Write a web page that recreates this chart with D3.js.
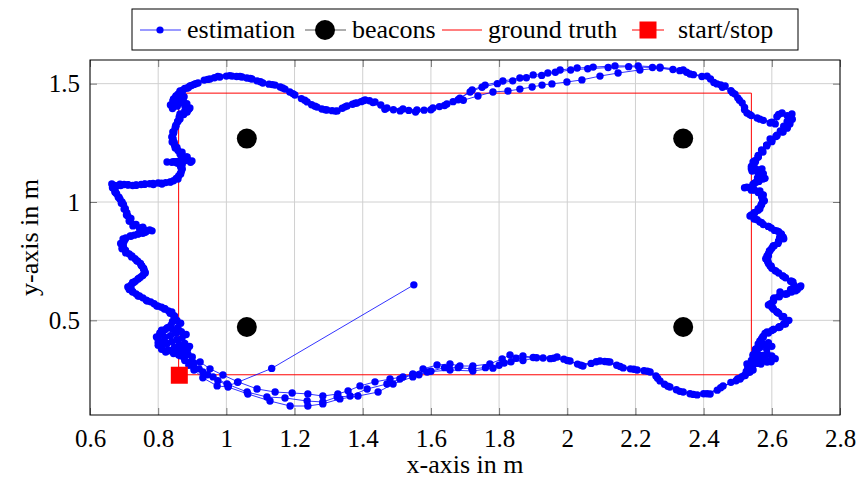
<!DOCTYPE html>
<html>
<head>
<meta charset="utf-8">
<script src="https://cdn.jsdelivr.net/npm/d3@7"></script>
<style>
  html, body { margin: 0; padding: 0; background: #fff; }
  svg { display: block; }
  text { font-family: "Liberation Serif", "Times New Roman", serif; fill: #000; }
</style>
</head>
<body>
<svg id="chart" width="859" height="483"></svg>
<script>
// ---------------- data ----------------
const xTicks = [0.6, 0.8, 1, 1.2, 1.4, 1.6, 1.8, 2, 2.2, 2.4, 2.6, 2.8];
const yTicks = [0.5, 1, 1.5];
const xDomain = [0.6, 2.8];
const yDomain = [0.1, 1.6];

const legendLabels = ["estimation", "beacons", "ground truth", "start/stop"];
const xLabel = "x-axis in m";
const yLabel = "y-axis in m";

const beacons = [[1.06, 0.472], [1.06, 1.268], [2.34, 1.268], [2.34, 0.472]];
const groundTruth = [[0.86, 0.27], [2.54, 0.27], [2.54, 1.46], [0.86, 1.46], [0.86, 0.27]];
const startStop = [[0.862, 0.268]];

const estimation = [
  // start
  [1.55,0.65],[1.133,0.297],[1.033,0.238],[1.006,0.224],[0.975,0.245],[0.945,0.27],[0.92,0.295],[0.905,0.32],[0.90,0.345],[0.888,0.355],[0.872,0.362],[0.858,0.372],[0.87,0.382],[0.886,0.376],[0.892,0.39],[0.878,0.402],[0.862,0.398],[0.848,0.386],[0.836,0.372],[0.822,0.366],[0.81,0.378],[0.8,0.395],[0.812,0.41],[0.826,0.402],[0.84,0.41],[0.855,0.418],[0.87,0.425],[0.882,0.44],[0.868,0.452],[0.852,0.445],[0.836,0.435],[0.82,0.428],[0.805,0.44],[0.81,0.458],[0.826,0.468],[0.842,0.462],[0.858,0.47],[0.866,0.488],[0.855,0.5],[0.848,0.515],[0.835,0.53],[0.818,0.548],[0.796,0.561],[0.768,0.582],
  // lap 1 left side
  [0.741,0.603],[0.725,0.622],[0.711,0.641],[0.728,0.66],[0.741,0.675],[0.755,0.69],[0.761,0.704],[0.757,0.718],[0.752,0.73],[0.737,0.752],[0.723,0.772],[0.706,0.788],[0.694,0.802],[0.692,0.823],[0.697,0.844],[0.718,0.857],[0.741,0.865],[0.762,0.872],[0.782,0.878],[0.752,0.89],[0.726,0.899],[0.716,0.92],[0.711,0.941],[0.703,0.97],[0.694,1.0],[0.683,1.02],[0.673,1.042],[0.666,1.06],[0.664,1.076],[0.688,1.075],[0.711,1.072],[0.736,1.071],[0.761,1.076],[0.786,1.074],[0.811,1.076],[0.836,1.084],[0.858,1.097],[0.866,1.118],[0.87,1.14],[0.864,1.156],[0.855,1.169],[0.826,1.169],[0.845,1.17],[0.864,1.173],[0.899,1.173],[0.882,1.19],[0.864,1.203],[0.85,1.228],[0.841,1.254],[0.84,1.275],[0.843,1.296],[0.852,1.325],[0.864,1.351],[0.864,1.372],[0.878,1.385],[0.893,1.397],[0.884,1.415],[0.873,1.43],[0.858,1.418],[0.843,1.427],[0.836,1.41],[0.842,1.395],[0.856,1.405],[0.85,1.44],[0.864,1.45],[0.876,1.445],[0.864,1.469],[0.878,1.48],[0.893,1.49],[0.917,1.503],
  // lap 1 top
  [0.952,1.52],[0.981,1.528],[1.017,1.532],[1.046,1.528],[1.075,1.52],[1.107,1.503],[1.143,1.494],[1.172,1.477],[1.201,1.452],[1.237,1.423],[1.266,1.401],[1.295,1.389],[1.325,1.385],[1.354,1.406],[1.383,1.418],[1.407,1.431],[1.436,1.423],[1.471,1.397],[1.518,1.393],[1.559,1.389],[1.606,1.397],[1.647,1.414],[1.685,1.439],[1.721,1.473],[1.759,1.494],[1.811,1.511],[1.861,1.524],[1.9,1.537],[1.943,1.545],[1.979,1.558],[2.029,1.566],[2.076,1.57],[2.14,1.575],[2.208,1.575],[2.272,1.57],[2.34,1.558],[2.36,1.541],[2.41,1.532],[2.439,1.499],[2.463,1.49],[2.492,1.456],[2.513,1.418],[2.527,1.376],[2.557,1.355],[2.595,1.334],[2.63,1.376],[2.659,1.372],
  // lap 1 right side
  [2.657,1.35],[2.653,1.33],[2.645,1.312],[2.633,1.296],[2.615,1.282],[2.595,1.266],[2.585,1.24],[2.574,1.211],[2.56,1.19],[2.545,1.169],[2.54,1.15],[2.542,1.131],[2.558,1.136],[2.571,1.14],[2.575,1.12],[2.574,1.097],[2.55,1.08],[2.527,1.063],[2.545,1.055],[2.565,1.047],[2.572,1.03],[2.574,1.013],[2.57,0.992],[2.565,0.971],[2.55,0.955],[2.536,0.941],[2.548,0.928],[2.565,0.916],[2.59,0.897],[2.615,0.878],[2.628,0.865],[2.633,0.852],[2.62,0.833],[2.604,0.814],[2.593,0.793],[2.586,0.772],[2.588,0.75],[2.595,0.73],[2.612,0.708],[2.633,0.687],[2.658,0.665],[2.683,0.641],[2.655,0.63],[2.624,0.62],[2.607,0.595],[2.595,0.569],[2.603,0.552],[2.615,0.535],[2.632,0.516],[2.645,0.497],[2.636,0.485],[2.624,0.472],[2.605,0.462],[2.586,0.451],[2.574,0.432],[2.565,0.413],[2.575,0.398],[2.59,0.405],[2.6,0.39],[2.585,0.378],[2.565,0.385],[2.552,0.37],[2.545,0.349],[2.558,0.36],[2.572,0.352],[2.586,0.36],[2.6,0.35],[2.61,0.338],[2.598,0.325],[2.586,0.324],[2.57,0.33],[2.555,0.32],[2.54,0.33],[2.527,0.316],[2.53,0.298],[2.545,0.29],[2.536,0.282],[2.522,0.267],[2.507,0.252],
  // lap 1 bottom
  [2.457,0.223],[2.419,0.189],[2.381,0.185],[2.34,0.197],[2.301,0.218],[2.272,0.244],[2.243,0.282],[2.205,0.29],[2.164,0.299],[2.125,0.324],[2.096,0.328],[2.046,0.307],[2.008,0.328],[1.97,0.345],[1.929,0.341],[1.87,0.349],[1.832,0.354],[1.809,0.337],[1.773,0.316],[1.723,0.307],[1.685,0.307],[1.656,0.316],[1.618,0.311],[1.577,0.295],[1.547,0.273],[1.518,0.261],[1.48,0.252],[1.436,0.24],[1.392,0.223],[1.357,0.202],[1.327,0.189],[1.283,0.18],[1.239,0.189],[1.193,0.193],[1.143,0.197],[1.09,0.21],[1.034,0.24],[0.99,0.269],[0.952,0.295],[0.923,0.324],
  // lap 2 left side
  [0.89,0.31],[0.878,0.33],[0.865,0.35],[0.848,0.365],[0.83,0.375],[0.812,0.395],[0.80,0.42],[0.812,0.447],[0.83,0.47],[0.842,0.495],[0.845,0.52],[0.83,0.54],[0.81,0.555],[0.788,0.57],[0.765,0.585],[0.745,0.603],[0.725,0.62],[0.72,0.64],[0.725,0.66],[0.742,0.676],[0.755,0.69],[0.76,0.703],[0.758,0.715],[0.75,0.733],[0.74,0.75],[0.722,0.768],[0.705,0.785],[0.695,0.806],[0.69,0.825],[0.703,0.842],[0.72,0.855],[0.742,0.866],[0.765,0.875],[0.758,0.884],[0.745,0.89],[0.728,0.905],[0.715,0.92],[0.707,0.945],[0.70,0.97],[0.692,0.995],[0.685,1.02],[0.675,1.04],[0.668,1.06],[0.678,1.068],[0.69,1.07],[0.712,1.073],[0.735,1.072],[0.76,1.075],[0.785,1.078],[0.81,1.079],[0.835,1.085],[0.853,1.1],[0.865,1.12],[0.87,1.138],[0.87,1.155],[0.855,1.165],[0.84,1.168],[0.86,1.172],[0.88,1.175],[0.885,1.19],[0.87,1.21],[0.855,1.23],[0.847,1.252],[0.842,1.275],[0.846,1.298],[0.852,1.32],[0.857,1.34],[0.862,1.36],[0.875,1.37],[0.885,1.38],[0.885,1.395],[0.88,1.41],[0.865,1.425],[0.852,1.44],[0.858,1.455],[0.87,1.465],[0.888,1.483],[0.905,1.497],
  // lap 2 top
  [0.935,1.515],[0.965,1.525],[1.0,1.532],[1.03,1.53],[1.06,1.524],[1.09,1.512],[1.125,1.498],[1.158,1.486],[1.186,1.465],[1.22,1.437],[1.25,1.411],[1.28,1.393],[1.31,1.386],[1.34,1.396],[1.37,1.413],[1.395,1.424],[1.42,1.428],[1.453,1.41],[1.49,1.39],[1.535,1.387],[1.58,1.388],[1.625,1.403],[1.665,1.424],[1.695,1.43],[1.738,1.448],[1.782,1.465],[1.826,1.469],[1.861,1.477],[1.897,1.486],[1.926,1.494],[1.955,1.499],[1.999,1.507],[2.043,1.516],[2.096,1.532],[2.149,1.545],[2.213,1.558],[2.272,1.566],[2.33,1.555],[2.37,1.538],[2.42,1.52],[2.45,1.495],[2.48,1.47],[2.50,1.44],[2.52,1.40],[2.535,1.37],[2.565,1.35],[2.60,1.337],[2.615,1.36],[2.645,1.365],
  // lap 2 right side
  [2.66,1.35],[2.652,1.332],[2.645,1.315],[2.63,1.297],[2.615,1.28],[2.6,1.26],[2.585,1.24],[2.572,1.215],[2.56,1.19],[2.552,1.17],[2.548,1.15],[2.552,1.135],[2.56,1.12],[2.558,1.102],[2.555,1.085],[2.545,1.072],[2.535,1.06],[2.55,1.05],[2.563,1.04],[2.575,1.03],[2.573,1.01],[2.57,0.99],[2.56,0.972],[2.548,0.955],[2.55,0.93],[2.57,0.913],[2.59,0.897],[2.608,0.88],[2.625,0.865],[2.623,0.85],[2.62,0.835],[2.607,0.815],[2.595,0.795],[2.59,0.772],[2.588,0.75],[2.598,0.73],[2.61,0.71],[2.632,0.688],[2.655,0.665],[2.665,0.648],[2.675,0.63],[2.658,0.62],[2.64,0.61],[2.622,0.6],[2.605,0.59],[2.6,0.572],[2.60,0.555],[2.615,0.535],[2.63,0.515],[2.64,0.485],[2.622,0.473],[2.605,0.462],[2.59,0.446],[2.575,0.43],[2.565,0.405],[2.555,0.38],[2.55,0.34],[2.575,0.33],[2.56,0.318],[2.545,0.31],[2.53,0.30],[2.525,0.284],[2.52,0.268],[2.5,0.253],[2.48,0.238],
  // lap 2 bottom
  [2.44,0.205],[2.40,0.19],[2.36,0.19],[2.32,0.207],[2.285,0.23],[2.26,0.265],[2.225,0.287],[2.185,0.295],[2.145,0.31],[2.11,0.326],[2.07,0.318],[2.03,0.315],[1.99,0.336],[1.95,0.338],[1.90,0.343],[1.85,0.34],[1.815,0.32],[1.782,0.298],[1.723,0.286],[1.656,0.29],[1.589,0.282],[1.547,0.27],[1.509,0.252],[1.471,0.231],[1.413,0.21],[1.363,0.18],[1.325,0.176],[1.283,0.155],[1.237,0.159],[1.172,0.172],[1.119,0.176],[1.061,0.197],[1.002,0.231],[0.961,0.261],[0.931,0.282],
  // lap 3 left side
  [0.905,0.30],[0.89,0.322],[0.875,0.345],[0.86,0.353],[0.845,0.36],[0.826,0.37],[0.81,0.385],[0.8,0.407],[0.795,0.43],[0.805,0.447],[0.82,0.46],[0.838,0.48],[0.85,0.50],[0.848,0.518],[0.84,0.535],[0.82,0.549],[0.80,0.56],[0.778,0.578],[0.755,0.595],[0.735,0.612],[0.715,0.63],[0.72,0.648],[0.733,0.665],[0.748,0.682],[0.762,0.70],[0.757,0.72],[0.748,0.74],[0.732,0.76],[0.715,0.78],[0.704,0.796],[0.698,0.812],[0.699,0.83],[0.705,0.848],[0.73,0.86],[0.755,0.868],[0.775,0.882],[0.755,0.894],[0.735,0.905],[0.72,0.93],[0.708,0.955],[0.703,0.973],[0.698,0.99],[0.688,1.012],[0.678,1.035],[0.673,1.052],[0.672,1.07],[0.70,1.074],[0.725,1.07],[0.75,1.074],[0.775,1.077],[0.80,1.08],[0.822,1.082],[0.845,1.09],[0.86,1.11],[0.868,1.13],[0.866,1.148],[0.86,1.165],[0.85,1.17],[0.873,1.17],[0.895,1.168],[0.885,1.182],[0.87,1.195],[0.858,1.218],[0.848,1.24],[0.844,1.265],[0.845,1.29],[0.85,1.315],[0.858,1.34],[0.862,1.355],[0.87,1.37],[0.88,1.38],[0.89,1.392],[0.878,1.407],[0.865,1.42],[0.845,1.435],[0.852,1.448],[0.862,1.46],[0.872,1.472],[0.885,1.482],[0.898,1.492],[0.91,1.50],
  // lap 3 top
  [0.945,1.518],[0.975,1.53],[1.01,1.534],[1.04,1.53],[1.07,1.522],[1.10,1.508],[1.135,1.496],[1.165,1.482],[1.195,1.458],[1.23,1.43],[1.26,1.405],[1.29,1.39],[1.32,1.384],[1.348,1.402],[1.378,1.417],[1.402,1.428],[1.43,1.42],[1.465,1.392],[1.51,1.385],[1.555,1.38],[1.60,1.39],[1.64,1.408],[1.68,1.432],[1.715,1.465],[1.75,1.485],[1.795,1.5],[1.84,1.512],[1.88,1.525],[1.925,1.535],[1.965,1.548],[2.01,1.558],[2.06,1.563],[2.12,1.568],[2.18,1.572],[2.25,1.568],[2.31,1.56],[2.35,1.548],[2.395,1.53],[2.43,1.505],[2.455,1.485],[2.485,1.462],[2.505,1.43],[2.52,1.39],[2.54,1.365],[2.575,1.345],[2.61,1.33],[2.62,1.37],[2.655,1.362],
  // lap 3 right side
  [2.645,1.34],[2.635,1.32],[2.625,1.30],[2.612,1.277],[2.60,1.255],[2.585,1.237],[2.57,1.22],[2.56,1.197],[2.55,1.175],[2.545,1.157],[2.54,1.14],[2.565,1.13],[2.573,1.115],[2.58,1.10],[2.562,1.087],[2.545,1.075],[2.52,1.06],[2.54,1.05],[2.56,1.04],[2.57,1.022],[2.578,1.005],[2.568,0.985],[2.56,0.965],[2.54,0.945],[2.557,0.925],[2.575,0.905],[2.598,0.89],[2.62,0.875],[2.628,0.86],[2.635,0.845],[2.618,0.825],[2.60,0.805],[2.59,0.782],[2.582,0.76],[2.59,0.74],[2.60,0.72],[2.62,0.70],[2.64,0.68],[2.662,0.662],[2.685,0.645],[2.67,0.625],[2.645,0.612],[2.62,0.60],[2.605,0.582],[2.59,0.565],[2.605,0.547],[2.62,0.53],[2.635,0.515],[2.65,0.50],[2.635,0.485],[2.62,0.47],[2.6,0.457],[2.58,0.445],[2.57,0.422],[2.56,0.40],[2.552,0.378],[2.545,0.355],[2.562,0.346],[2.58,0.338],[2.595,0.33],[2.568,0.315],[2.54,0.30],[2.53,0.28],[2.512,0.262],[2.495,0.245],
  // lap 3 bottom
  [2.45,0.215],[2.41,0.19],[2.37,0.187],[2.33,0.20],[2.295,0.222],[2.265,0.255],[2.235,0.285],[2.195,0.293],[2.155,0.305],[2.118,0.325],[2.085,0.325],[2.04,0.31],[2.00,0.33],[1.96,0.34],[1.91,0.342],[1.87,0.33],[1.835,0.325],[1.80,0.31],[1.76,0.30],[1.72,0.295],[1.68,0.30],[1.64,0.30],[1.60,0.285],[1.565,0.27],[1.547,0.261],[1.489,0.231],[1.445,0.197],[1.386,0.18],[1.333,0.168],[1.283,0.147],[1.239,0.138],[1.187,0.138],[1.128,0.159],[1.063,0.189],[1.005,0.218],[0.973,0.223],[0.931,0.257],[0.905,0.29]
];

// ---------------- layout ----------------
const W = 859, H = 483;
const plot = { left: 90, right: 840, top: 60, bottom: 415 };
const TICKFONT = 25, LABELFONT = 26;

const svg = d3.select("#chart");
svg.append("rect").attr("width", W).attr("height", H).attr("fill", "#fff");

const x = d3.scaleLinear().domain(xDomain).range([plot.left, plot.right]);
const y = d3.scaleLinear().domain(yDomain).range([plot.bottom, plot.top]);
const fmt = d3.format("~g");

// grid
const grid = svg.append("g").attr("stroke", "#d0d0d0").attr("stroke-width", 1);
grid.selectAll("line.gx").data(xTicks).join("line")
  .attr("x1", d => x(d)).attr("x2", d => x(d))
  .attr("y1", plot.top).attr("y2", plot.bottom);
grid.selectAll("line.gy").data(yTicks).join("line")
  .attr("y1", d => y(d)).attr("y2", d => y(d))
  .attr("x1", plot.left).attr("x2", plot.right);

// axes (inner ticks on all sides)
const tickLen = 7;
const axB = svg.append("g").attr("transform", `translate(0,${plot.bottom})`)
  .call(d3.axisBottom(x).tickValues(xTicks).tickSize(-tickLen).tickPadding(14).tickFormat(fmt));
const axT = svg.append("g").attr("transform", `translate(0,${plot.top})`)
  .call(d3.axisTop(x).tickValues(xTicks).tickSize(-tickLen).tickFormat(""));
const axL = svg.append("g").attr("transform", `translate(${plot.left},0)`)
  .call(d3.axisLeft(y).tickValues(yTicks).tickSize(-tickLen).tickPadding(10).tickFormat(fmt));
const axR = svg.append("g").attr("transform", `translate(${plot.right},0)`)
  .call(d3.axisRight(y).tickValues(yTicks).tickSize(-tickLen).tickFormat(""));
[axB, axT, axL, axR].forEach(a => {
  a.select(".domain").remove();
  a.selectAll(".tick line").attr("stroke", "#777").attr("stroke-width", 1);
  a.selectAll(".tick text").attr("font-family", "Liberation Serif, serif").attr("font-size", TICKFONT).attr("fill", "#000");
});

// ground truth
const line = d3.line().x(d => x(d[0])).y(d => y(d[1]));
svg.append("path").datum(groundTruth).attr("d", line)
  .attr("fill", "none").attr("stroke", "#ff0000").attr("stroke-width", 1);

// estimation
svg.append("path").datum(estimation).attr("d", line)
  .attr("fill", "none").attr("stroke", "#0000ff").attr("stroke-width", 0.8);
svg.append("g").selectAll("circle").data(estimation).join("circle")
  .attr("cx", d => x(d[0])).attr("cy", d => y(d[1])).attr("r", 3.7).attr("fill", "#0000ff");

// beacons
svg.append("g").selectAll("circle").data(beacons).join("circle")
  .attr("cx", d => x(d[0])).attr("cy", d => y(d[1])).attr("r", 10).attr("fill", "#000");

// start/stop
const sq = 17;
svg.append("g").selectAll("rect").data(startStop).join("rect")
  .attr("x", d => x(d[0]) - sq / 2).attr("y", d => y(d[1]) - sq / 2)
  .attr("width", sq).attr("height", sq).attr("fill", "#ff0000");

// frame
svg.append("rect").attr("x", plot.left).attr("y", plot.top)
  .attr("width", plot.right - plot.left).attr("height", plot.bottom - plot.top)
  .attr("fill", "none").attr("stroke", "#000").attr("stroke-width", 1);

// axis labels
svg.append("text").attr("x", (plot.left + plot.right) / 2).attr("y", 473)
  .attr("text-anchor", "middle").attr("font-size", LABELFONT).text(xLabel);
svg.append("text").attr("transform", `translate(38,${(plot.top + plot.bottom) / 2}) rotate(-90)`)
  .attr("text-anchor", "middle").attr("font-size", LABELFONT).text(yLabel);

// legend
const lg = svg.append("g");
lg.append("rect").attr("x", 132).attr("y", 9).attr("width", 666).attr("height", 41)
  .attr("fill", "#fff").attr("stroke", "#000").attr("stroke-width", 1);
const ly = 30, tb = 38;
// estimation
lg.append("line").attr("x1", 140).attr("x2", 181).attr("y1", ly).attr("y2", ly).attr("stroke", "#0000ff").attr("stroke-width", 0.8);
lg.append("circle").attr("cx", 160).attr("cy", ly).attr("r", 3.6).attr("fill", "#0000ff");
lg.append("text").attr("x", 187).attr("y", tb).attr("font-size", LABELFONT).text(legendLabels[0]);
// beacons
lg.append("line").attr("x1", 305).attr("x2", 346).attr("y1", ly).attr("y2", ly).attr("stroke", "#333").attr("stroke-width", 0.8);
lg.append("circle").attr("cx", 325).attr("cy", ly).attr("r", 10).attr("fill", "#000");
lg.append("text").attr("x", 352).attr("y", tb).attr("font-size", LABELFONT).text(legendLabels[1]);
// ground truth
lg.append("line").attr("x1", 442).attr("x2", 482).attr("y1", ly).attr("y2", ly).attr("stroke", "#ff0000").attr("stroke-width", 1);
lg.append("text").attr("x", 488).attr("y", tb).attr("font-size", LABELFONT).text(legendLabels[2]);
// start/stop
lg.append("line").attr("x1", 632).attr("x2", 664).attr("y1", ly).attr("y2", ly).attr("stroke", "#ff0000").attr("stroke-width", 1);
lg.append("rect").attr("x", 648 - sq / 2).attr("y", ly - sq / 2).attr("width", sq).attr("height", sq).attr("fill", "#ff0000");
lg.append("text").attr("x", 678).attr("y", tb).attr("font-size", LABELFONT).text(legendLabels[3]);
</script>
</body>
</html>
